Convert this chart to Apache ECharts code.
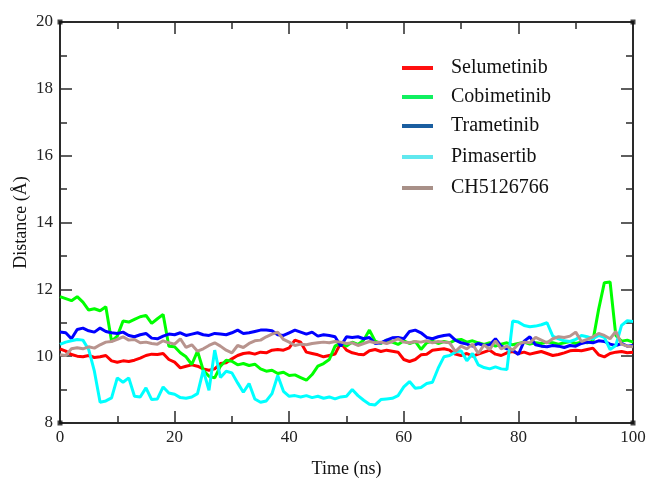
<!DOCTYPE html>
<html>
<head>
<meta charset="utf-8">
<script src="https://cdn.jsdelivr.net/npm/echarts@6/dist/echarts.min.js"></script>
<style>
  html, body { margin: 0; padding: 0; background: #fff; }
  #chart { width: 648px; height: 478px; }
</style>
</head>
<body>
<div id="chart"></div>
<script>
// Time axis (ns), one sample per nanosecond
const time = Array.from({ length: 101 }, (_, i) => i);

const seriesNames = ['Selumetinib', 'Cobimetinib', 'Trametinib', 'Pimasertib', 'CH5126766'];

// Distance (Å) per inhibitor
const selumetinib = [
  10.22, 10.15, 10.05, 10.00, 9.98, 10.02, 9.96, 9.98, 10.02, 9.86,
  9.82, 9.86, 9.84, 9.88, 9.94, 10.02, 10.06, 10.05, 10.08, 9.90,
  9.82, 9.65, 9.70, 9.74, 9.70, 9.62, 9.58, 9.62, 9.78, 9.80,
  9.92, 10.02, 10.08, 10.10, 10.06, 10.12, 10.10, 10.18, 10.20, 10.18,
  10.25, 10.48, 10.42, 10.12, 10.08, 10.04, 9.98, 10.02, 10.06, 10.40,
  10.18, 10.10, 10.06, 10.04, 10.16, 10.20, 10.14, 10.18, 10.15, 10.12,
  9.90, 9.84, 9.90, 10.04, 10.06, 10.18, 10.20, 10.22, 10.18, 10.06,
  10.02, 10.08, 10.00, 10.06, 10.12, 10.18, 10.06, 10.02, 10.10, 10.14,
  10.08, 10.12, 10.06, 10.10, 10.14, 10.08, 10.02, 10.05, 10.10, 10.16,
  10.18, 10.16, 10.20, 10.24, 10.04, 9.98, 10.08, 10.12, 10.14, 10.10,
  10.12
];
const cobimetinib = [
  11.78, 11.72, 11.66, 11.78, 11.62, 11.38, 11.42, 11.36, 11.48, 10.45,
  10.60, 11.05, 11.02, 11.10, 11.18, 11.22, 10.98, 11.12, 11.25, 10.30,
  10.28, 10.10, 9.98, 9.75, 10.15, 9.58, 9.40, 9.35, 9.70, 9.88,
  9.85, 9.74, 9.78, 9.72, 9.76, 9.62, 9.55, 9.58, 9.48, 9.52,
  9.42, 9.44, 9.36, 9.28, 9.45, 9.70, 9.78, 9.90, 10.30, 10.40,
  10.30, 10.42, 10.35, 10.48, 10.78, 10.45, 10.38, 10.48, 10.42, 10.35,
  10.46, 10.38, 10.44, 10.20, 10.40, 10.45, 10.38, 10.44, 10.40, 10.48,
  10.50, 10.42, 10.46, 10.40, 10.35, 10.40, 10.30, 10.36, 10.40, 10.34,
  10.38, 10.42, 10.36, 10.40, 10.38, 10.42, 10.40, 10.36, 10.40, 10.44,
  10.38, 10.42, 10.40, 10.45, 11.40, 12.20, 12.22, 10.62, 10.45, 10.48,
  10.42
];
const trametinib = [
  10.72, 10.70, 10.52, 10.80, 10.84, 10.76, 10.72, 10.84, 10.74, 10.70,
  10.68, 10.72, 10.62, 10.58, 10.64, 10.68, 10.54, 10.52, 10.60, 10.66,
  10.64, 10.70, 10.62, 10.66, 10.70, 10.64, 10.62, 10.68, 10.66, 10.64,
  10.70, 10.78, 10.68, 10.70, 10.74, 10.78, 10.78, 10.76, 10.64, 10.62,
  10.70, 10.78, 10.72, 10.66, 10.72, 10.60, 10.64, 10.62, 10.58, 10.30,
  10.58, 10.56, 10.58, 10.52, 10.56, 10.38, 10.40, 10.48, 10.55, 10.56,
  10.52, 10.74, 10.78, 10.70, 10.56, 10.52, 10.58, 10.62, 10.64, 10.48,
  10.40, 10.36, 10.30, 10.38, 10.32, 10.34, 10.52, 10.30, 10.22, 10.18,
  10.05, 10.45, 10.58, 10.34, 10.30, 10.28, 10.32, 10.30, 10.26, 10.32,
  10.30, 10.38, 10.42, 10.40, 10.46, 10.44, 10.36, 10.32, 10.38, 10.30,
  10.32
];
const pimasertib = [
  10.35, 10.42, 10.46, 10.50, 10.48, 10.20, 9.55, 8.62, 8.66, 8.75,
  9.35, 9.22, 9.35, 8.80, 8.78, 9.05, 8.70, 8.72, 9.08, 8.90,
  8.86, 8.76, 8.74, 8.78, 8.88, 9.58, 8.98, 10.18, 9.36, 9.55,
  9.50, 9.20, 8.92, 9.18, 8.72, 8.62, 8.66, 8.88, 9.42, 8.95,
  8.80, 8.82, 8.78, 8.82, 8.76, 8.80, 8.74, 8.78, 8.72, 8.78,
  8.80, 9.00, 8.82, 8.68, 8.56, 8.54, 8.70, 8.72, 8.74, 8.82,
  9.08, 9.24, 9.04, 9.06, 9.18, 9.22, 9.64, 9.98, 10.02, 10.12,
  10.16, 9.86, 10.08, 9.74, 9.66, 9.62, 9.68, 9.62, 9.60, 11.05,
  11.02, 10.92, 10.88, 10.90, 10.94, 11.00, 10.60, 10.52, 10.46, 10.44,
  10.50, 10.62, 10.58, 10.52, 10.62, 10.56, 10.20, 10.32, 10.92, 11.06,
  11.04
];
const ch5126766 = [
  10.04, 10.02, 10.22, 10.25, 10.22, 10.28, 10.24, 10.34, 10.42, 10.44,
  10.50, 10.58, 10.48, 10.50, 10.40, 10.42, 10.38, 10.36, 10.46, 10.40,
  10.36, 10.52, 10.26, 10.34, 10.15, 10.22, 10.32, 10.40, 10.30, 10.18,
  10.10, 10.32, 10.26, 10.38, 10.46, 10.48, 10.58, 10.66, 10.72, 10.50,
  10.42, 10.32, 10.36, 10.34, 10.38, 10.40, 10.42, 10.40, 10.44, 10.42,
  10.38, 10.40, 10.32, 10.38, 10.44, 10.40, 10.42, 10.38, 10.44, 10.52,
  10.42, 10.40, 10.44, 10.42, 10.46, 10.40, 10.44, 10.42, 10.40, 10.14,
  10.30, 10.22, 10.36, 10.08, 10.34, 10.20, 10.46, 10.22, 10.30, 10.18,
  10.36, 10.42, 10.40, 10.56, 10.48, 10.40, 10.52, 10.58, 10.56, 10.60,
  10.72, 10.44, 10.50, 10.58, 10.68, 10.62, 10.52, 10.74, 10.36, 10.30,
  10.28
];

const seriesValues = [selumetinib, cobimetinib, trametinib, pimasertib, ch5126766];

// Axis ranges and tick steps
const xRange = [0, 100, 20];
const yRange = [8, 20, 2];

const lineColors = ['#ff0000', '#00ff00', '#0000ff', '#00ffff', '#b8948e'];
const legendColors = ['#ff1010', '#10f060', '#1a5ea0', '#60e8ee', '#a89088'];
const legendTops = [53, 82, 111, 142, 173];

const serif = '"Liberation Serif", "DejaVu Serif", serif';
const frameColor = '#2a2a2a';

const chart = echarts.init(document.getElementById('chart'), null, { renderer: 'canvas' });

function axisCommon(showLabels) {
  return {
    axisLine: { show: true, onZero: false, lineStyle: { color: frameColor, width: 2 } },
    axisTick: { show: true, inside: true, length: 12, lineStyle: { color: frameColor, width: 1.5 } },
    minorTick: { show: true, splitNumber: 2, length: 7, lineStyle: { color: frameColor, width: 1.5 } },
    splitLine: { show: false },
    axisLabel: { show: showLabels, fontFamily: serif, fontSize: 17, color: '#222' }
  };
}

const lineSeries = seriesNames.map((name, i) => ({
  name,
  type: 'line',
  xAxisIndex: 0,
  yAxisIndex: 0,
  data: time.map((t, k) => [t, seriesValues[i][k]]),
  showSymbol: false,
  symbol: 'none',
  lineStyle: { color: lineColors[i], width: 3 },
  itemStyle: { color: lineColors[i] },
  z: 2 + i,
  animation: false
}));

// small square markers on the frame corners
const cornerSeries = {
  type: 'scatter',
  data: [[xRange[0], yRange[0]], [xRange[0], yRange[1]], [xRange[1], yRange[1]], [xRange[1], yRange[0]]],
  symbol: 'rect',
  symbolSize: 5,
  itemStyle: { color: '#111' },
  silent: true,
  z: 10,
  animation: false
};

const legends = seriesNames.map((name, i) => ({
  data: [{ name, itemStyle: { color: legendColors[i] } }],
  left: 397,
  top: legendTops[i],
  orient: 'vertical',
  icon: 'rect',
  itemWidth: 31,
  itemHeight: 4,
  selectedMode: false,
  textStyle: { fontFamily: serif, fontSize: 20, color: '#111', padding: [0, 0, 0, 13] }
}));

chart.setOption({
  animation: false,
  backgroundColor: '#ffffff',
  grid: { left: 60, right: 15, top: 22, bottom: 55, containLabel: false, outerBoundsMode: 'none' },
  legend: legends,
  xAxis: [
    Object.assign(axisCommon(true), {
      type: 'value', position: 'bottom', min: xRange[0], max: xRange[1], interval: xRange[2],
      name: 'Time (ns)', nameLocation: 'middle', nameGap: 37, nameMoveOverlap: false,
      nameTextStyle: { fontFamily: serif, fontSize: 18, color: '#111' },
      axisLabel: { show: true, fontFamily: serif, fontSize: 17, color: '#222', margin: 6 }
    }),
    Object.assign(axisCommon(false), {
      type: 'value', position: 'top', min: xRange[0], max: xRange[1], interval: xRange[2]
    })
  ],
  yAxis: [
    Object.assign(axisCommon(true), {
      type: 'value', position: 'left', min: yRange[0], max: yRange[1], interval: yRange[2],
      name: 'Distance (Å)', nameLocation: 'middle', nameGap: 30, nameMoveOverlap: false,
      nameTextStyle: { fontFamily: serif, fontSize: 18, color: '#111' },
      axisLabel: { show: true, fontFamily: serif, fontSize: 17, color: '#222', margin: 7 }
    }),
    Object.assign(axisCommon(false), {
      type: 'value', position: 'right', min: yRange[0], max: yRange[1], interval: yRange[2]
    })
  ],
  series: lineSeries.concat([cornerSeries])
});
</script>
</body>
</html>
